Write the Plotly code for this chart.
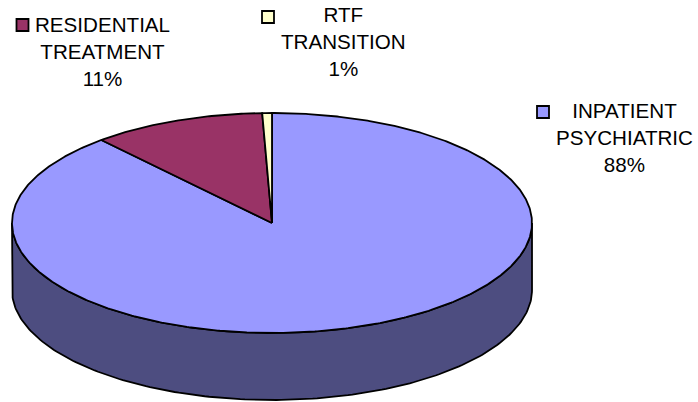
import numpy as np
import plotly.graph_objects as go

categories = ["INPATIENT<br>PSYCHIATRIC", "RESIDENTIAL<br>TREATMENT", "RTF<br>TRANSITION"]
values = [88.6, 10.8, 0.6]
percent_labels = ["88%", "11%", "1%"]

colors = ["#9999FF", "#993366", "#FFFFCC"]
side_color = "#4D4D80"
CX, CY, RX, RY, DEPTH = 272, 223, 260, 110, 67
W, H = 698, 402
label_pos = [(624, 137), (102, 51), (343, 41.5)]
key_pos = [(543, 112), (22.5, 25), (268, 17)]


def ell(t, dy=0):
    return CX + RX * np.sin(t), CY + dy - RY * np.cos(t)


fig = go.Figure()

# side wall (visible front half of the pie)
t = np.linspace(np.pi / 2, 3 * np.pi / 2, 181)
x1, y1 = ell(t)
x2, y2 = ell(t[::-1], DEPTH)
fig.add_trace(go.Scatter(x=np.r_[x1, x2, x1[0]], y=np.r_[y1, y2, y1[0]], mode="lines",
                         fill="toself", fillcolor=side_color,
                         line=dict(color="black", width=1.8), hoverinfo="skip", showlegend=False))

# top slices, clockwise from 12 o'clock
fractions = np.array(values) / sum(values)
start = 0.0
for frac, col, name in zip(fractions, colors, categories):
    end = start + frac * 2 * np.pi
    t = np.linspace(start, end, max(int(frac * 720), 3))
    x, y = ell(t)
    fig.add_trace(go.Scatter(x=np.r_[CX, x, CX], y=np.r_[CY, y, CY], mode="lines",
                             fill="toself", fillcolor=col,
                             line=dict(color="black", width=1.8), name=name.replace("<br>", " "),
                             showlegend=False))
    start = end

# legend keys
fig.add_trace(go.Scatter(x=[p[0] for p in key_pos], y=[p[1] for p in key_pos], mode="markers",
                         marker=dict(symbol="square", size=12, color=colors,
                                     line=dict(color="black", width=1.8)),
                         hoverinfo="skip", showlegend=False))

for name, pct, (lx, ly) in zip(categories, percent_labels, label_pos):
    fig.add_annotation(x=lx, y=ly, text=f"{name}<br>{pct}", showarrow=False, align="center",
                       xanchor="center", yanchor="middle",
                       font=dict(family="Liberation Sans, Arial, sans-serif", size=20.6, color="black"))

fig.update_layout(width=W, height=H, margin=dict(l=0, r=0, t=0, b=0),
                  paper_bgcolor="white", plot_bgcolor="white",
                  xaxis=dict(range=[0, W], visible=False, fixedrange=True),
                  yaxis=dict(range=[H, 0], visible=False, fixedrange=True))
fig.write_html("out.html", config={"displayModeBar": False},
               post_script="document.body.style.margin='0';document.body.style.overflow='hidden';")
